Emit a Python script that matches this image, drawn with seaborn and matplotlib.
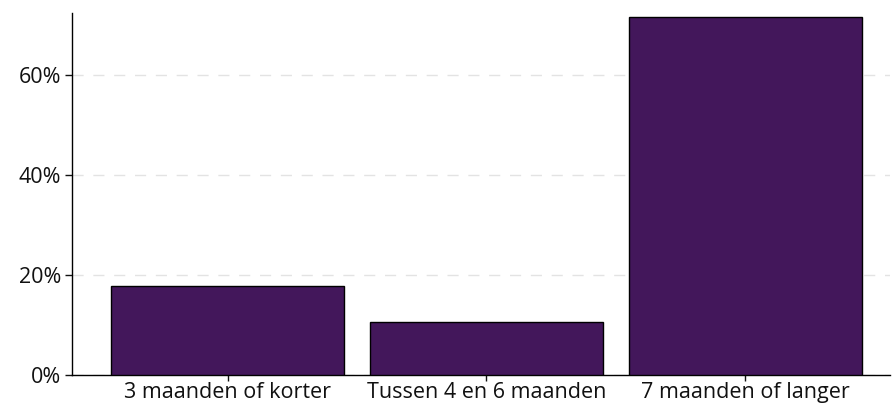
import pandas as pd
import numpy as np
import matplotlib.pyplot as plt
import seaborn as sns
from matplotlib.ticker import PercentFormatter

# Gegevens
categorieen = ["3 maanden of korter", "Tussen 4 en 6 maanden", "7 maanden of langer"]
aandeel = [17.9, 10.6, 71.6]

df = pd.DataFrame({"categorie": categorieen, "aandeel": aandeel})

sns.set_style("white")
plt.rcParams['font.family'] = ['Open Sans', 'DejaVu Sans']

fig, ax = plt.subplots(figsize=(8.92, 4.05), dpi=100)
sns.barplot(x="categorie", y="aandeel", data=df, color="#43175b", saturation=1,
            width=0.9, edgecolor="black", linewidth=1, ax=ax, zorder=3)

ax.set_xlim(-0.6, 2.56)
ax.set_ylim(0, 72.4)
ax.set_yticks([0, 20, 40, 60])
ax.yaxis.set_major_formatter(PercentFormatter(decimals=0))
ax.yaxis.grid(True, linestyle=(0, (8, 7)), color="#e3e3e3", linewidth=1, zorder=0)
ax.set_axisbelow(True)
ax.set_xlabel("")
ax.set_ylabel("")
ax.tick_params(axis="both", labelsize=15.5, length=5, width=1, color="#111111",
               labelcolor="#111111", bottom=True, left=True)
ax.tick_params(axis="x", length=4, pad=1)
ax.tick_params(axis="y", pad=3)
sns.despine(ax=ax)
for s in ["left", "bottom"]:
    ax.spines[s].set_color("black")
    ax.spines[s].set_linewidth(1)

plt.subplots_adjust(left=0.081, right=0.998, top=0.968, bottom=0.074)
plt.savefig("out.png", dpi=100)
